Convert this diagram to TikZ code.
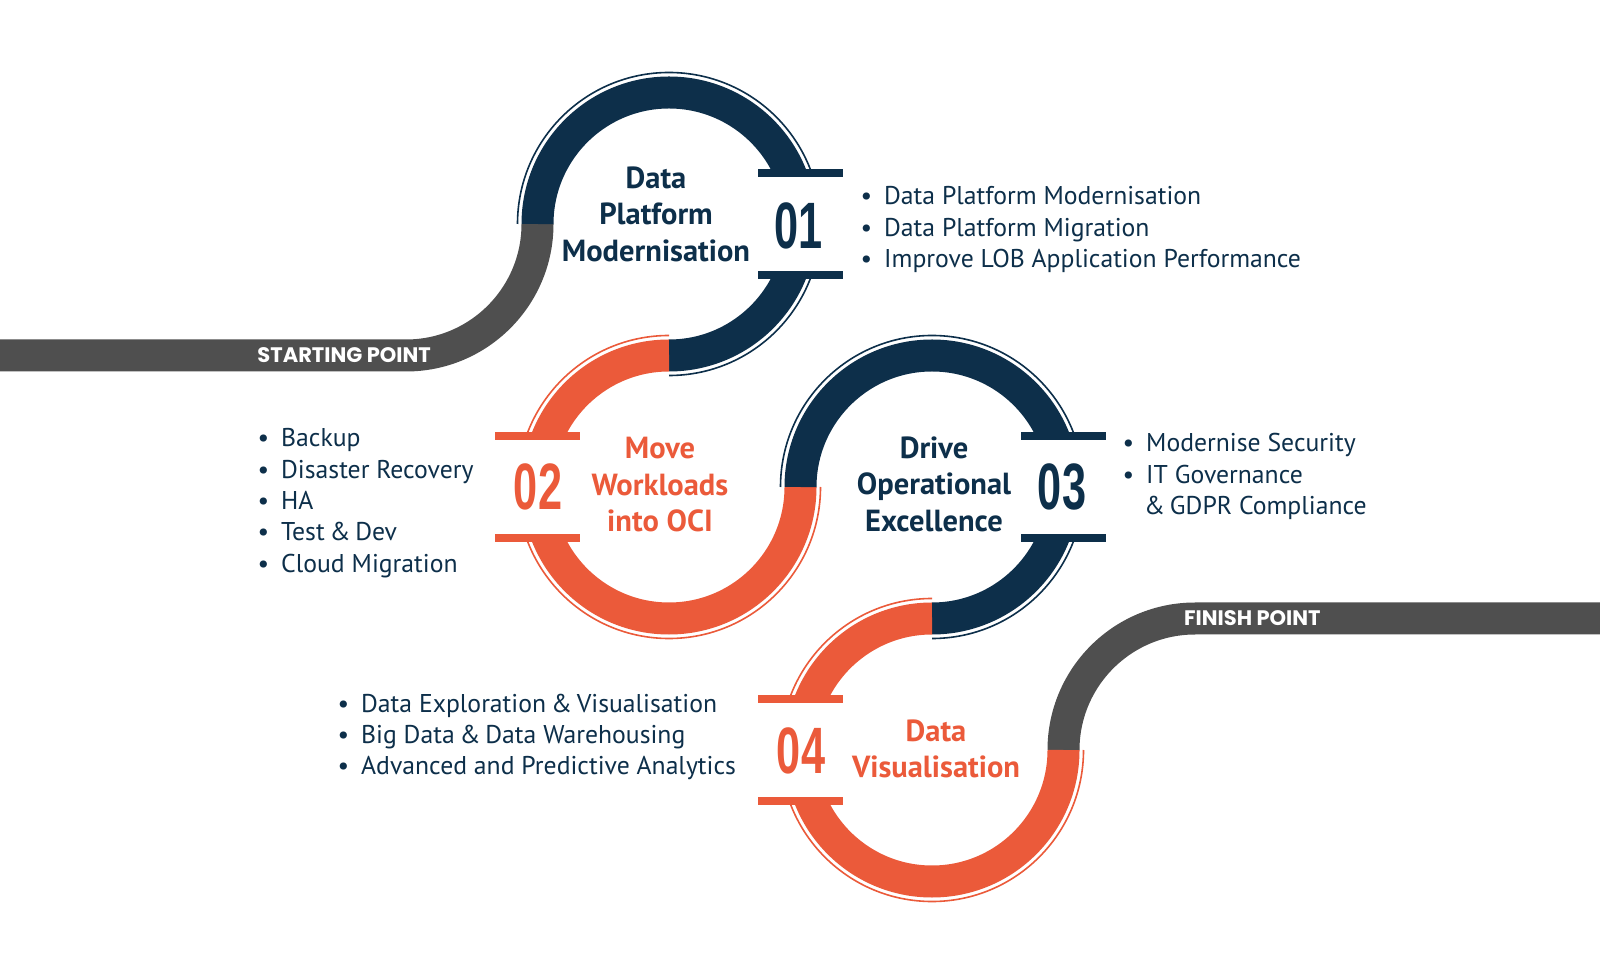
\documentclass[tikz,border=0pt]{standalone}
\usepackage{fontspec}
\setmainfont{PT Sans}
\newfontfamily\numfont[FakeStretch=0.66]{Liberation Sans}
\newfontfamily\labfont{Poppins}
\definecolor{navy}{RGB}{13,47,74}
\definecolor{orng}{RGB}{235,90,58}
\definecolor{gry}{RGB}{79,79,79}
\begin{document}
\begin{tikzpicture}[x=1pt,y=1pt,line cap=butt,
  ring/.style={line width=32pt},
  outl/.style={line width=1.6pt},
  title/.style={font=\fontsize{30.5}{36.5}\selectfont\bfseries, align=center, inner sep=0pt},
  num/.style={font=\numfont\bfseries\fontsize{65.6}{66}\selectfont, inner sep=0pt},
  bul/.style={font=\fontsize{25.7}{31.3}\selectfont, text=navy, inner sep=0pt, anchor=base west},
  lab/.style={font=\labfont\bfseries\fontsize{21}{24}\selectfont, text=white, inner sep=0pt}]
\useasboundingbox (0,0) rectangle (1600,975);
\fill[white] (0,0) rectangle (1600,975);
\coordinate (c1) at (669,751);
\coordinate (c2) at (669,488);
\coordinate (c3) at (932,488);
\coordinate (c4) at (932,225);
% start and finish tracks
\coordinate (s0) at (0,619.5);
\coordinate (s1) at (406,619.5);
\draw[ring, gry] (s0) -- (s1) arc[start angle=-90, end angle=0, radius=131.5];
\coordinate (f0) at (1063.5,225);
\coordinate (f1) at (1600,356.5);
\draw[ring, gry] (f0) arc[start angle=180, end angle=90, radius=131.5] -- (f1);
% rings
\draw[ring, navy] (c1) ++(180:131.5) arc[start angle=180, end angle=-90, radius=131.5];
\draw[outl, navy] (c1) ++(180:151.5) arc[start angle=180, end angle=-90, radius=151.5];
\draw[ring, orng] (c2) ++(90:131.5) arc[start angle=90, end angle=360, radius=131.5];
\draw[outl, orng] (c2) ++(90:151.5) arc[start angle=90, end angle=360, radius=151.5];
\draw[ring, navy] (c3) ++(180:131.5) arc[start angle=180, end angle=-90, radius=131.5];
\draw[outl, navy] (c3) ++(180:151.5) arc[start angle=180, end angle=-90, radius=151.5];
\draw[ring, orng] (c4) ++(90:131.5) arc[start angle=90, end angle=360, radius=131.5];
\draw[outl, orng] (c4) ++(90:151.5) arc[start angle=90, end angle=360, radius=151.5];
% number gaps and bars
\fill[white] (c1) ++(89,-47) rectangle ++(85,94);
\fill[navy] (c1) ++(89,47) rectangle ++(85,8);
\fill[navy] (c1) ++(89,-55) rectangle ++(85,8);
\fill[white] (c2) ++(-174,-47) rectangle ++(85,94);
\fill[orng] (c2) ++(-174,47) rectangle ++(85,8);
\fill[orng] (c2) ++(-174,-55) rectangle ++(85,8);
\fill[white] (c3) ++(89,-47) rectangle ++(85,94);
\fill[navy] (c3) ++(89,47) rectangle ++(85,8);
\fill[navy] (c3) ++(89,-55) rectangle ++(85,8);
\fill[white] (c4) ++(-174,-47) rectangle ++(85,94);
\fill[orng] (c4) ++(-174,47) rectangle ++(85,8);
\fill[orng] (c4) ++(-174,-55) rectangle ++(85,8);
% numbers
\node[num, text=navy] (n1) at (798.5,749) {01};
\node[num, text=orng] (n2) at (538,488) {02};
\node[num, text=navy] (n3) at (1062,488) {03};
\node[num, text=orng] (n4) at (801,224) {04};
% titles
\node[title, text=navy] (t1) at (656,761) {Data\\Platform\\Modernisation};
\node[title, text=orng] (t2) at (660,490) {Move\\Workloads\\into OCI};
\node[title, text=navy] (t3) at (934,491) {Drive\\Operational\\Excellence};
\node[title, text=orng] (t4) at (936,226) {Data\\Visualisation};
% bullets
\newcommand{\bu}{\llap{\textbullet\hspace{12pt}}}
\newcommand{\amp}{\hspace{-2pt}\&\hspace{-2pt}}
\node[bul] (b11) at (884,770) {\bu Data Platform Modernisation};
\node[bul] (b12) at (884,738.7) {\bu Data Platform Migration};
\node[bul] (b13) at (884,707.4) {\bu Improve LOB Application Performance};
\node[bul] (b21) at (281,528) {\bu Backup};
\node[bul] (b22) at (281,496.7) {\bu Disaster Recovery};
\node[bul] (b23) at (281,465.4) {\bu HA};
\node[bul] (b24) at (281,434.1) {\bu Test \amp{} Dev};
\node[bul] (b25) at (281,402.8) {\bu Cloud Migration};
\node[bul] (b31) at (1146,523) {\bu Modernise Security};
\node[bul] (b32) at (1146,491.7) {\bu IT Governance};
\node[bul] (b33) at (1144,460.4) {\&\hspace{-2pt} GDPR Compliance};
\node[bul] (b41) at (361,263) {\bu Data Exploration \amp{} Visualisation};
\node[bul] (b42) at (361,231.7) {\bu Big Data \amp{} Data Warehousing};
\node[bul] (b43) at (361,200.4) {\bu Advanced and Predictive Analytics};
% track labels
\node[lab, anchor=base east] (start) at (431,612) {STARTING POINT};
\node[lab, anchor=base west] (finish) at (1184,349.5) {FINISH POINT};
\end{tikzpicture}
\end{document}
